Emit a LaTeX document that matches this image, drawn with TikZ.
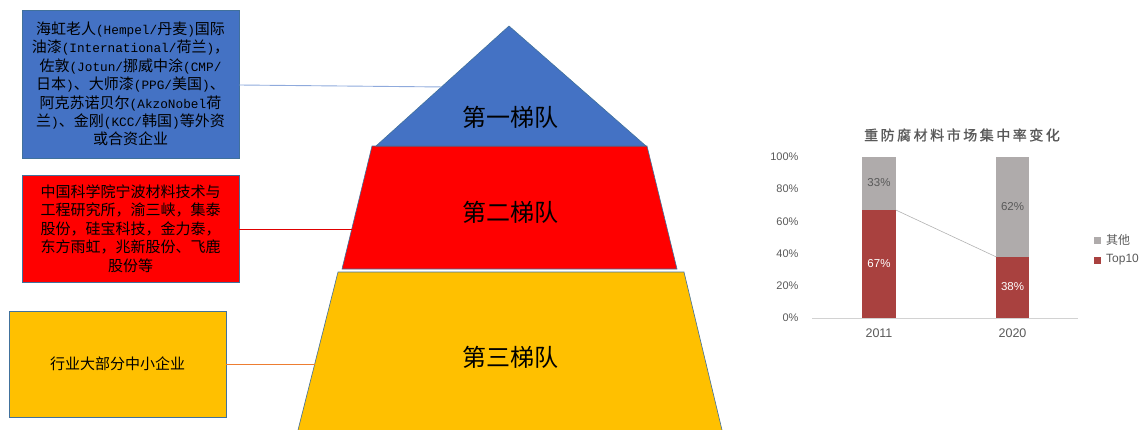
\documentclass[tikz,border=0pt]{standalone}
\usepackage{fontspec}
\usetikzlibrary{calc}
\setmainfont{Liberation Sans}
\newfontfamily\cjk{Noto Sans CJK SC}
\newfontfamily\cjktitle[LetterSpace=18,FakeBold=1.2]{Noto Sans CJK SC}
\newfontfamily\hw[Scale=0.85]{Liberation Mono}
\newcommand\hh[1]{{\hw #1}}
\definecolor{tierblue}{HTML}{4472C4}
\definecolor{tierred}{HTML}{FF0000}
\definecolor{tieryel}{HTML}{FFC000}
\definecolor{edgeblue}{HTML}{41719C}
\definecolor{linkblue}{HTML}{8FAADC}
\definecolor{linkred}{HTML}{E00000}
\definecolor{linkorange}{HTML}{ED7D31}
\definecolor{barred}{HTML}{A9413F}
\definecolor{bargrey}{HTML}{AFABAB}
\definecolor{axtext}{HTML}{595959}
\tikzset{
  infobox/.style={draw=edgeblue, line width=0.8pt, minimum width=217pt, align=center, inner sep=0pt,
    font=\fontsize{15}{18.4}\selectfont\cjk},
  tier/.style={draw=edgeblue, line width=0.6pt},
  tierlabel/.style={font=\fontsize{24}{28}\selectfont\cjk},
  axlabel/.style={font=\fontsize{11}{13}\selectfont, text=axtext},
  barlabel/.style={font=\fontsize{11.5}{13}\selectfont},
}
\begin{document}
\begin{tikzpicture}[x=1pt,y=-1pt]
\useasboundingbox (0,0) rectangle (1144,429);
% pyramid
\coordinate (apex) at (509,26);
\coordinate (t1l) at (376,146); \coordinate (t1r) at (646,146);
\coordinate (t2tl) at (372,146); \coordinate (t2tr) at (647,146);
\coordinate (t2bl) at (342,269); \coordinate (t2br) at (677,269);
\coordinate (t3tl) at (338,272); \coordinate (t3tr) at (684,272);
\coordinate (t3bl) at (298,430); \coordinate (t3br) at (722,430);
\fill[tieryel] (t3tl) -- (t3tr) -- (t3br) -- (t3bl) -- cycle;
\draw[tier] (t3bl) -- (t3tl) -- (t3tr) -- (t3br);
\filldraw[tier, fill=tierred] (t2tl) -- (t2tr) -- (t2br) -- (t2bl) -- cycle;
\filldraw[tier, fill=tierblue] (apex) -- (t1r) -- (t1l) -- cycle;
\node[tierlabel] (l1) at (510,117) {第一梯队};
\node[tierlabel] (l2) at (510,212) {第二梯队};
\node[tierlabel] (l3) at (510,357) {第三梯队};
% info boxes
\node[infobox, fill=tierblue, minimum height=148pt] (b1) at (130.5,84) {%
海虹老人\hh{(Hempel/}丹麦\hh{)}国际\\
油漆\hh{(International/}荷兰\hh{)}，\\
佐敦\hh{(Jotun/}挪威中涂\hh{(CMP/}\\
日本\hh{)}、大师漆\hh{(PPG/}美国\hh{)}、\\
阿克苏诺贝尔\hh{(AkzoNobel}荷\\
兰\hh{)}、金刚\hh{(KCC/}韩国\hh{)}等外资\\
或合资企业};
\node[infobox, fill=tierred, minimum height=107pt] (b2) at (130.5,228.5) {%
中国科学院宁波材料技术与\\
工程研究所，渝三峡，集泰\\
股份，硅宝科技，金力泰，\\
东方雨虹，兆新股份、飞鹿\\
股份等};
\node[infobox, fill=tieryel, minimum height=106pt] (b3) at (117.5,364) {行业大部分中小企业};
% connectors
\coordinate (e1) at ($(apex)!0.508!(t1l)$);
\coordinate (e2) at (351.5,229);
\coordinate (e3) at (314.5,364);
\draw[linkblue, line width=0.9pt] (b1.east |- 0,85) -- (e1);
\draw[linkred, line width=0.8pt] (b2.east |- 0,229) -- (e2);
\draw[linkorange, line width=0.8pt] (b3.east) -- (e3);
% chart
\node[font=\fontsize{14}{16}\selectfont\cjktitle, text=axtext] (title) at (962,135) {重防腐材料市场集中率变化};
\foreach \p/\y in {0/318,20/285.8,40/253.6,60/221.4,80/189.2,100/157}{
  \node[axlabel, anchor=east] (y\p) at (802,\y) {\p\%};
}
\coordinate (axl) at (812,318); \coordinate (axr) at (1078,318);
\draw[gray!35, line width=0.8pt] (axl) -- (axr);
\fill[barred] (862,318) rectangle (896,210.1);
\fill[bargrey] (862,210.1) rectangle (896,157);
\fill[barred] (996,318) rectangle (1029,256.8);
\fill[bargrey] (996,256.8) rectangle (1029,157);
\coordinate (s1) at (896,210.1); \coordinate (s2) at (996,256.8);
\draw[gray!60, line width=0.6pt] (s1) -- (s2);
\node[barlabel, text=axtext] (v1) at (879,183) {33\%};
\node[barlabel, text=white] (v2) at (879,264) {67\%};
\node[barlabel, text=axtext] (v3) at (1012.5,207) {62\%};
\node[barlabel, text=white] (v4) at (1012.5,287) {38\%};
\node[axlabel, font=\fontsize{12.5}{14}\selectfont] (x1) at (879,333) {2011};
\node[axlabel, font=\fontsize{12.5}{14}\selectfont] (x2) at (1012.5,333) {2020};
\fill[bargrey] (1094,236.5) rectangle (1101,243.5);
\fill[barred] (1094,256.5) rectangle (1101,263.5);
\node[anchor=west, inner sep=0pt, text=axtext, font=\fontsize{12}{14}\selectfont\cjk] (lg1) at (1106,240) {其他};
\node[anchor=west, inner sep=0pt, text=axtext, font=\fontsize{12}{14}\selectfont] (lg2) at (1106,260) {Top10};
\end{tikzpicture}
\end{document}
